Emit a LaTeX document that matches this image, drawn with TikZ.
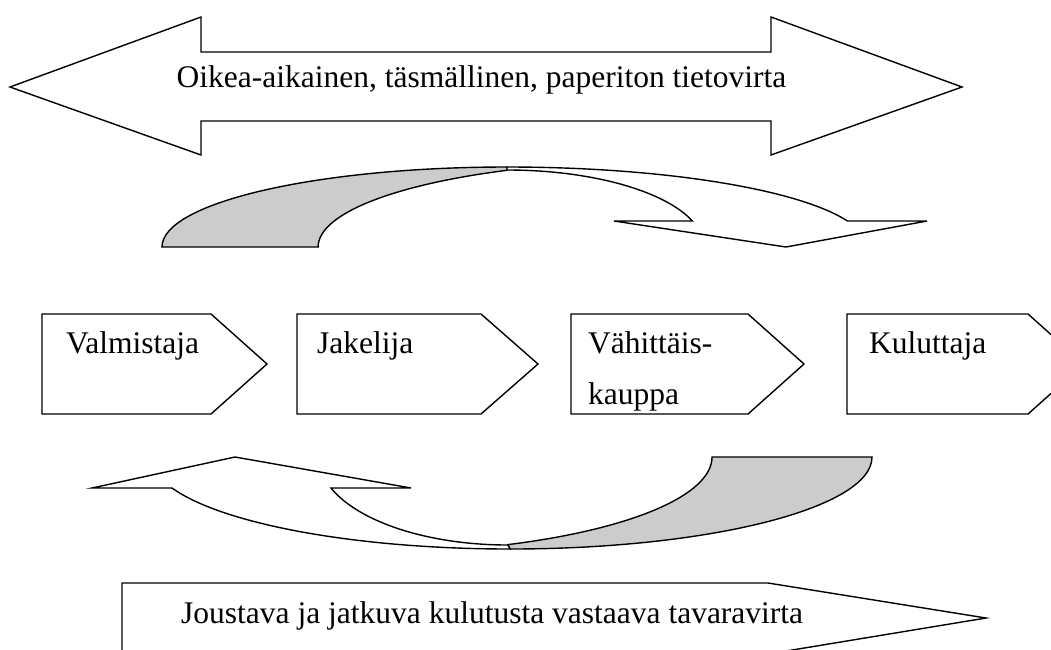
\documentclass[tikz,border=0pt]{standalone}
\usepackage{fontspec}
\setmainfont{Liberation Serif}
\begin{document}
\begin{tikzpicture}[x=1pt,y=1pt,
  blk/.style={draw=black,line width=1.4pt,line join=miter,fill=white},
  back/.style={draw=black,line width=1.4pt,fill=black!20},
  lbl/.style={anchor=base west,inner sep=0pt,font=\fontsize{31.5}{38}\selectfont}]
\useasboundingbox (0,0) rectangle (1051,-649);
\clip (0,0) rectangle (1051,-649);
% top double arrow
\draw[blk] (10,-87) -- (201,-17) -- (201,-52) -- (771,-52) -- (771,-17) -- (962,-87)
  -- (771,-155) -- (771,-121) -- (201,-121) -- (201,-155) -- cycle;
\node[lbl] (info) at (176.5,-87) {Oikea-aikainen, täsmällinen, paperiton tietovirta};
% upper curved arrow (back part)
\draw[back] (162,-247) arc[start angle=180,end angle=90,x radius=345pt,y radius=80pt]
  -- ++(0,-3.3) arc[start angle=116.9,end angle=180,x radius=345pt,y radius=86pt] -- cycle;
% upper curved arrow (front part)
\draw[blk] (507,-167) arc[start angle=90,end angle=19,x radius=360pt,y radius=80pt]
  -- (927,-221) -- (786,-247) -- (614,-221) -- (692.4,-221)
  arc[start angle=19.73,end angle=90,x radius=197pt,y radius=77pt] -- cycle;
% chain boxes
\draw[blk] (42,-314) -- (211,-314) -- (267,-364) -- (211,-414) -- (42,-414) -- cycle;
\draw[blk] (297,-314) -- (481,-314) -- (538,-364) -- (481,-414) -- (297,-414) -- cycle;
\draw[blk] (571,-314) -- (748,-314) -- (804,-364) -- (748,-414) -- (571,-414) -- cycle;
\draw[blk] (847,-314) -- (1028,-314) -- (1084,-364) -- (1028,-414) -- (847,-414) -- cycle;
\node[lbl] (valm) at (66,-353) {Valmistaja};
\node[lbl] (jak) at (317,-353) {Jakelija};
\node[lbl] (vah) at (588,-353) {Vähittäis-};
\node[lbl] (kau) at (588,-404) {kauppa};
\node[lbl] (kul) at (869,-353) {Kuluttaja};
% lower curved arrow (back part)
\draw[back] (872,-457) arc[start angle=0,end angle=-90,x radius=362pt,y radius=92pt]
  -- (508,-544.6) arc[start angle=-65.88,end angle=0,x radius=345pt,y radius=96pt] -- cycle;
% lower curved arrow (front part)
\draw[blk] (510,-549) arc[start angle=270,end angle=199.69,x radius=359pt,y radius=92pt]
  -- (92,-488) -- (235,-457) -- (411,-488) -- (331,-488)
  arc[start angle=200.63,end angle=270,x radius=189pt,y radius=88pt] -- cycle;
% bottom arrow
\draw[blk] (122,-656) -- (122,-583) -- (768,-583) -- (986,-618) -- (768,-654);
\node[lbl] (goods) at (181,-623) {Joustava ja jatkuva kulutusta vastaava tavaravirta};
\end{tikzpicture}
\end{document}
